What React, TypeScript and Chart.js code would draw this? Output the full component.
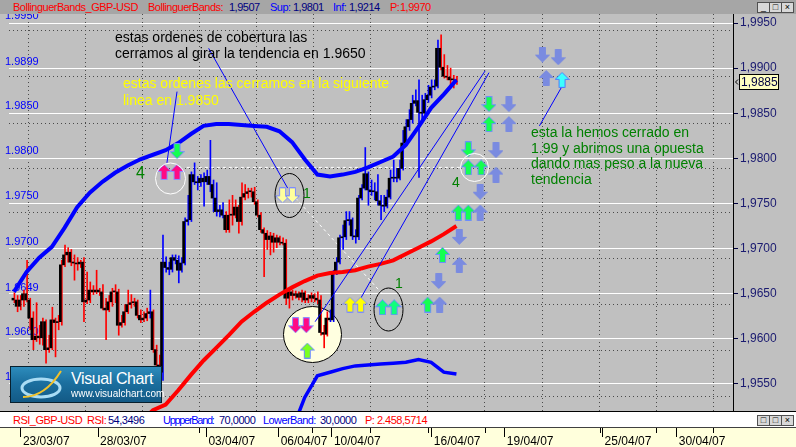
import React, { useEffect, useRef } from "react";
import { Chart, registerables } from "chart.js";

Chart.register(...registerables);

const FONT = "'Liberation Sans', Arial, Helvetica, sans-serif";

// ---------------- data ----------------
const opens = [
  1.9645,1.9643,1.9636,1.9643,1.9650,1.9643,1.9623,1.9599,1.9603,1.9601,
  1.9619,1.9588,1.9590,1.9621,1.9618,1.9619,1.9682,1.9693,1.9696,1.9685,
  1.9684,1.9683,1.9685,1.9641,1.9643,1.9654,1.9652,1.9654,1.9652,1.9634,
  1.9632,1.9641,1.9652,1.9652,1.9615,1.9618,1.9630,1.9638,1.9640,1.9641,
  1.9626,1.9621,1.9623,1.9628,1.9630,1.9588,1.9571,1.9563,1.9685,1.9679,
  1.9677,1.9690,1.9687,1.9676,1.9684,1.9730,1.9732,1.9782,1.9774,1.9773,
  1.9778,1.9774,1.9780,1.9771,1.9756,1.9741,1.9743,1.9737,1.9721,1.9737,
  1.9737,1.9746,1.9730,1.9757,1.9761,1.9763,1.9763,1.9752,1.9737,1.9721,
  1.9717,1.9710,1.9714,1.9707,1.9712,1.9707,1.9706,1.9645,1.9652,1.9648,
  1.9650,1.9646,1.9651,1.9643,1.9645,1.9648,1.9645,1.9643,1.9607,1.9605,
  1.9623,1.9621,1.9673,1.9685,1.9712,1.9713,1.9731,1.9732,1.9714,1.9713,
  1.9756,1.9767,1.9783,1.9765,1.9763,1.9763,1.9753,1.9748,1.9747,1.9757,
  1.9778,1.9778,1.9778,1.9789,1.9817,1.9835,1.9843,1.9861,1.9864,1.9851,
  1.9850,1.9865,1.9870,1.9879,1.9880,1.9922,1.9901,1.9891,1.9890,1.9887,
  1.9887,
];
const highs = [
  1.9651,1.9648,1.9648,1.9654,1.9687,1.9645,1.9630,1.9640,1.9615,1.9623,
  1.9621,1.9604,1.9635,1.9623,1.9626,1.9687,1.9704,1.9701,1.9699,1.9693,
  1.9690,1.9687,1.9690,1.9674,1.9663,1.9659,1.9676,1.9656,1.9660,1.9645,
  1.9648,1.9656,1.9660,1.9655,1.9626,1.9638,1.9654,1.9649,1.9645,1.9643,
  1.9632,1.9630,1.9634,1.9654,1.9632,1.9593,1.9582,1.9715,1.9691,1.9685,
  1.9693,1.9693,1.9692,1.9690,1.9734,1.9759,1.9785,1.9795,1.9780,1.9782,
  1.9784,1.9787,1.9820,1.9776,1.9773,1.9748,1.9751,1.9741,1.9754,1.9759,
  1.9754,1.9748,1.9773,1.9771,1.9767,1.9767,1.9768,1.9754,1.9740,1.9723,
  1.9720,1.9718,1.9717,1.9715,1.9714,1.9712,1.9710,1.9656,1.9654,1.9653,
  1.9652,1.9654,1.9653,1.9649,1.9651,1.9650,1.9652,1.9648,1.9615,1.9630,
  1.9632,1.9676,1.9690,1.9715,1.9726,1.9741,1.9741,1.9734,1.9721,1.9759,
  1.9771,1.9812,1.9785,1.9776,1.9773,1.9782,1.9759,1.9759,1.9765,1.9787,
  1.9798,1.9789,1.9798,1.9831,1.9843,1.9854,1.9870,1.9876,1.9887,1.9870,
  1.9872,1.9881,1.9887,1.9887,1.9931,1.9937,1.9915,1.9903,1.9900,1.9892,
  1.9891,
];
const lows = [
  1.9640,1.9630,1.9632,1.9636,1.9641,1.9610,1.9588,1.9597,1.9594,1.9593,
  1.9573,1.9585,1.9588,1.9580,1.9610,1.9615,1.9680,1.9685,1.9681,1.9665,
  1.9676,1.9679,1.9619,1.9639,1.9640,1.9649,1.9650,1.9648,1.9632,1.9599,
  1.9630,1.9636,1.9640,1.9604,1.9613,1.9615,1.9628,1.9634,1.9636,1.9623,
  1.9618,1.9619,1.9620,1.9623,1.9585,1.9568,1.9557,1.9554,1.9674,1.9671,
  1.9674,1.9683,1.9662,1.9674,1.9682,1.9726,1.9730,1.9771,1.9765,1.9769,
  1.9747,1.9771,1.9763,1.9741,1.9736,1.9735,1.9734,1.9718,1.9718,1.9726,
  1.9734,1.9717,1.9726,1.9754,1.9756,1.9757,1.9749,1.9735,1.9718,1.9669,
  1.9699,1.9693,1.9696,1.9701,1.9704,1.9704,1.9638,1.9634,1.9643,1.9645,
  1.9643,1.9641,1.9640,1.9640,1.9641,1.9641,1.9639,1.9604,1.9590,1.9603,
  1.9619,1.9619,1.9671,1.9683,1.9699,1.9710,1.9726,1.9710,1.9706,1.9710,
  1.9754,1.9765,1.9748,1.9759,1.9754,1.9748,1.9732,1.9741,1.9745,1.9755,
  1.9774,1.9774,1.9776,1.9787,1.9814,1.9831,1.9839,1.9858,1.9779,1.9843,
  1.9847,1.9862,1.9867,1.9876,1.9878,1.9898,1.9889,1.9887,1.9881,1.9878,
  1.9882,
];
const closes = [
  1.9643,1.9636,1.9643,1.9650,1.9643,1.9623,1.9599,1.9603,1.9601,1.9619,
  1.9588,1.9590,1.9621,1.9618,1.9619,1.9682,1.9693,1.9696,1.9685,1.9684,
  1.9683,1.9685,1.9641,1.9643,1.9654,1.9652,1.9654,1.9652,1.9634,1.9632,
  1.9641,1.9652,1.9652,1.9615,1.9618,1.9630,1.9638,1.9640,1.9641,1.9626,
  1.9621,1.9623,1.9628,1.9630,1.9588,1.9571,1.9563,1.9685,1.9679,1.9677,
  1.9690,1.9687,1.9676,1.9684,1.9730,1.9732,1.9782,1.9774,1.9773,1.9778,
  1.9774,1.9780,1.9771,1.9756,1.9741,1.9743,1.9737,1.9721,1.9737,1.9737,
  1.9746,1.9730,1.9757,1.9761,1.9763,1.9763,1.9752,1.9737,1.9721,1.9717,
  1.9710,1.9714,1.9707,1.9712,1.9707,1.9706,1.9645,1.9652,1.9648,1.9650,
  1.9646,1.9651,1.9643,1.9645,1.9648,1.9645,1.9643,1.9607,1.9605,1.9623,
  1.9621,1.9673,1.9685,1.9712,1.9713,1.9731,1.9732,1.9714,1.9713,1.9756,
  1.9767,1.9783,1.9765,1.9763,1.9763,1.9753,1.9748,1.9747,1.9757,1.9778,
  1.9778,1.9778,1.9789,1.9817,1.9835,1.9843,1.9861,1.9864,1.9851,1.9850,
  1.9865,1.9870,1.9879,1.9880,1.9922,1.9901,1.9891,1.9890,1.9887,1.9887,
  1.9885,
];
// r = red wick, b = blue wick
const wickColors =
  "rrrrrrrrrr" + "rrrrrrrrrr" + "rrrrrrrrrr" + "rrrrrrrrrr" + "rrrbrrrbbb" +
  "bbbbbbbbbb" + "bbbbbbbrrr" + "rrrrrrrrrr" + "rrrrrrrrrr" + "rrrrrrrrrr" +
  "bbbbbbbbbb" + "bbbbbbbbbb" + "bbbbbbbbbb" + "bbbbbrrrrr" + "r";

const bandIdx = [0,4,8,12,16,20,24,28,32,36,40,44,48,52,56,60,64,68,72,76,80,84,88,92,96,100,104,108,112,116,120,124,128,132,136,140];
const upperBand = [1.9652,1.9674,1.9690,1.9702,1.9723,1.9746,1.9762,1.9774,1.9784,1.9792,1.9799,1.9804,1.9809,1.9817,1.9827,1.9836,1.9838,1.9838,1.9837,1.9836,1.9835,1.9830,1.9818,1.9799,1.9782,1.9780,1.9782,1.9785,1.9790,1.9796,1.9802,1.9815,1.9835,1.9856,1.9871,1.9887];
const middleBand = [null,null,null,null,null,null,null,null,null,1.9488,1.9507,1.9521,1.9527,1.9543,1.9560,1.9576,1.9590,1.9604,1.9619,1.9630,1.9640,1.9649,1.9657,1.9664,1.9670,1.9673,1.9674,1.9676,1.9680,1.9683,1.9687,1.9694,1.9701,1.9708,1.9716,1.9725];
const lowerBand = [null,null,null,null,null,null,null,null,null,null,null,null,null,null,null,null,null,null,null,null,null,null,1.9499,1.9535,1.9559,1.9563,1.9567,1.9570,1.9571,1.9572,1.9573,1.9574,1.9577,1.9574,1.9563,1.9561];

const axisTicks = [1.955, 1.96, 1.965, 1.97, 1.975, 1.98, 1.985, 1.99, 1.995];
const lineLevels = [1.995, 1.9899, 1.985, 1.98, 1.975, 1.97, 1.9649, 1.96, 1.955];
const dottedLevels = [1.9942, 1.9891, 1.9839, 1.9789, 1.974, 1.9689, 1.9638, 1.9587, 1.9536];
const gridIdx = [4.5, 22.6, 40.7, 58.7, 76.8, 94.8, 112.9, 131.0, 149.0, 167.1, 185.2, 203.2, 221.3];
const dateTickIdx = [2.2, 26.6, 60.9, 83.75, 100.6, 132.2, 155.3, 186.25, 209.7];
const dateLabels = ["23/03/07", "28/03/07", "03/04/07", "06/04/07", "10/04/07", "16/04/07", "19/04/07", "25/04/07", "30/04/07"];
const shortTickIdx = [58.4, 94.4, 112.5, 130.9, 149.1, 185.3, 203.1, 221.25];

const markerIdx = [47.5, 51.6, 51.6, 85, 88.1, 89.1, 92.5, 92.8, 106.3, 109.7, 116.6, 120.3, 150.3, 156.6, 150.3, 156.6, 143.75, 152.5, 143.75, 147.8, 152.5, 147.5, 140.6, 143.75, 147.5, 140.9, 135.6, 140.9, 134.4, 130.9, 134.7, 167.2, 172.2, 168.4, 173.4];
const markerVal = [1.9785, 1.9785, 1.9808, 1.9759, 1.9759, 1.9615, 1.9615, 1.9587, 1.9638, 1.9638, 1.9635, 1.9635, 1.986, 1.986, 1.9838, 1.9838, 1.981, 1.9809, 1.979, 1.979, 1.9782, 1.9763, 1.974, 1.974, 1.974, 1.9713, 1.9693, 1.9682, 1.9664, 1.9638, 1.9638, 1.9915, 1.9912, 1.9889, 1.9887];
const markerKind = ["pinkUp", "pinkUp", "greenDown", "paleDown", "paleDown", "pinkDown", "pinkDown", "limeUp", "yellowUp", "yellowUp", "mintUp", "mintUp", "greenDown", "greyDown", "greenUp", "greyUp", "greenDown", "greyDown", "greenUp", "greenUp", "greyUp", "greyDown", "greenUp", "greenUp", "greyUp", "greyDown", "greenUp", "greyUp", "greyDown", "greenUp", "greyUp", "greyDown", "greyDown", "greyUp", "cyanUp"];

const ringIdx = [49.4, 145.6, 87.0, 118.3];
const ringVal = [1.9778, 1.979, 1.9759, 1.9633];
const ringKind = ["whiteA", "whiteB", "blackA", "blackB"];
const paleIdx = [94.2];
const paleVal = [1.9605];

const ptrStartIdx = [61.6, 51.6, 174.1, 95.3, 109.4];
const ptrStartVal = [1.9922, 1.9874, 1.9884, 1.9619, 1.9643];
const ptrEndIdx = [86.6, 48.4, 166.25, 149.1, 150.3];
const ptrEndVal = [1.9767, 1.9795, 1.9836, 1.9897, 1.9895];

const dashStartIdx = [54.7, 89.1];
const dashStartVal = [1.979, 1.9756];
const dashEndIdx = [142.2, 116.25];
const dashEndVal = [1.979, 1.9651];

const X_MIN = -1.5625;
const X_MAX = 227.5;
const Y_MIN = 1.952;
const Y_MAX = 1.996;

// ring styles: width, height, stroke, fill
const RING_STYLE: Record<string, [number, number, string, string | null]> = {
  whiteA: [30, 31, "#ffffff", null],
  whiteB: [28, 28, "#ffffff", null],
  blackA: [29, 44, "#000000", null],
  blackB: [29, 43, "#000000", null],
  pale: [58, 56, "#000000", "#ffffe0"],
};

// ---------------- helpers ----------------
function arrowCanvas(fill: string, stroke: string, up: boolean) {
  const c = document.createElement("canvas");
  c.width = 15;
  c.height = 16;
  const g = c.getContext("2d")!;
  const pts = [[7.5, 0.5], [14.5, 7.5], [10.5, 7.5], [10.5, 15.5], [4.5, 15.5], [4.5, 7.5], [0.5, 7.5]];
  g.beginPath();
  pts.forEach(([x, y], k) => {
    const yy = up ? y : 16 - y;
    if (k === 0) g.moveTo(x, yy);
    else g.lineTo(x, yy);
  });
  g.closePath();
  g.fillStyle = fill;
  g.fill();
  g.strokeStyle = stroke;
  g.lineWidth = 1;
  g.stroke();
  return c;
}

function drawRing(ctx: CanvasRenderingContext2D, cx: number, cy: number, kind: string) {
  const [w, h, stroke, fill] = RING_STYLE[kind];
  ctx.beginPath();
  ctx.ellipse(Math.round(cx) + 0.5, Math.round(cy) + 0.5, w / 2, h / 2, 0, 0, Math.PI * 2);
  if (fill) {
    ctx.fillStyle = fill;
    ctx.fill();
  }
  ctx.strokeStyle = stroke;
  ctx.lineWidth = 1;
  ctx.stroke();
}

const Btn = ({ x, y, glyph }: { x: number; y: number; glyph: string }) => (
  <div
    style={{
      position: "absolute", left: x, top: y, width: 11, height: 9,
      border: "1px solid #505050", background: "#d8d8d8", fontSize: 9,
      lineHeight: "9px", textAlign: "center", color: "#000", fontFamily: FONT,
    }}
  >
    {glyph}
  </div>
);

export default function App() {
  const ref = useRef<HTMLCanvasElement>(null);

  useEffect(() => {
    if (!ref.current) return;
    Chart.defaults.font.family = FONT;

    const arrows: Record<string, HTMLCanvasElement> = {
      pinkUp: arrowCanvas("#ff0a84", "#8c8cff", true),
      pinkDown: arrowCanvas("#ff0a84", "#8c8cff", false),
      greenUp: arrowCanvas("#14ff50", "#6c8cff", true),
      greenDown: arrowCanvas("#14ff50", "#6c8cff", false),
      limeUp: arrowCanvas("#7cff20", "#6c8cff", true),
      paleDown: arrowCanvas("#ffff9c", "#7c8cff", false),
      yellowUp: arrowCanvas("#ffff00", "#7c8cff", true),
      mintUp: arrowCanvas("#10ff7c", "#6c8cff", true),
      greyUp: arrowCanvas("#7a8be0", "#7a8be0", true),
      greyDown: arrowCanvas("#7a8be0", "#7a8be0", false),
      cyanUp: arrowCanvas("#3cffff", "#4c7cff", true),
    };

    const idx = closes.map((_, i) => i);
    const datasets: any[] = [];

    datasets.push({
      type: "scatter", label: "markers", order: 0,
      data: markerIdx.map((x, k) => ({ x, y: markerVal[k] })),
      pointStyle: markerKind.map((k) => arrows[k]),
      pointRadius: 8, showLine: false,
    });
    ptrStartIdx.forEach((x, k) => {
      datasets.push({
        type: "line", order: 1,
        data: [{ x, y: ptrStartVal[k] }, { x: ptrEndIdx[k], y: ptrEndVal[k] }],
        borderColor: "#0000ff", borderWidth: 1, pointRadius: 0,
      });
    });
    const bands = [
      { d: upperBand, c: "#0000ff", w: 4 },
      { d: middleBand, c: "#ff0000", w: 4 },
      { d: lowerBand, c: "#0000ff", w: 3.5 },
    ];
    bands.forEach((b) => {
      datasets.push({
        type: "line", order: 2,
        data: bandIdx.map((x, k) => ({ x, y: b.d[k] })),
        borderColor: b.c, borderWidth: b.w, pointRadius: 0, spanGaps: false,
      });
    });
    datasets.push({
      type: "bar", label: "wick", order: 4,
      data: idx.map((i) => ({ x: i, y: [lows[i], highs[i]] })),
      backgroundColor: idx.map((i) => (wickColors[i] === "b" ? "#0000ff" : "#ff0000")),
      barThickness: 1, minBarLength: 1,
    });
    datasets.push({
      type: "bar", label: "body", order: 3,
      data: idx.map((i) => ({ x: i, y: [opens[i], closes[i]] })),
      backgroundColor: "#000000",
      barThickness: 2, minBarLength: 1,
    });
    dashStartIdx.forEach((x, k) => {
      datasets.push({
        type: "line", order: 5,
        data: [{ x, y: dashStartVal[k] }, { x: dashEndIdx[k], y: dashEndVal[k] }],
        borderColor: "#ffffff", borderWidth: 1, borderDash: [3, 3], pointRadius: 0,
      });
    });

    const overlay = {
      id: "overlay",
      beforeDraw(chart: any) {
        const { ctx, chartArea } = chart;
        ctx.save();
        ctx.fillStyle = "#ffffdc";
        ctx.fillRect(0, chartArea.bottom + 17, chart.width, chart.height - chartArea.bottom - 17);
        ctx.restore();
      },
      beforeDatasetsDraw(chart: any) {
        const { ctx } = chart;
        const x = chart.scales.x;
        const y = chart.scales.y;
        ctx.save();
        ctx.font = `11px ${FONT}`;
        ctx.fillStyle = "#0000ff";
        ctx.textAlign = "left";
        ctx.textBaseline = "alphabetic";
        lineLevels.forEach((v) => ctx.fillText(v.toFixed(4), 5, y.getPixelForValue(v) - 4));
        paleIdx.forEach((v, k) => drawRing(ctx, x.getPixelForValue(v), y.getPixelForValue(paleVal[k]), "pale"));
        ctx.restore();
      },
      afterDatasetsDraw(chart: any) {
        const { ctx } = chart;
        const x = chart.scales.x;
        const y = chart.scales.y;
        ctx.save();
        ringIdx.forEach((v, k) => drawRing(ctx, x.getPixelForValue(v), y.getPixelForValue(ringVal[k]), ringKind[k]));
        ctx.restore();
      },
      afterDraw(chart: any) {
        const { ctx, chartArea } = chart;
        const x = chart.scales.x;
        const y = chart.scales.y;
        ctx.save();
        ctx.strokeStyle = "#000";
        ctx.lineWidth = 1;
        const top = chartArea.bottom + 17;
        shortTickIdx.forEach((v) => {
          const px = Math.round(x.getPixelForValue(v)) + 0.5;
          ctx.beginPath();
          ctx.moveTo(px, top);
          ctx.lineTo(px, top + 5);
          ctx.stroke();
        });
        // last price box
        const last = closes[closes.length - 1];
        const py = Math.round(y.getPixelForValue(last));
        const bx = chartArea.right + 6;
        ctx.fillStyle = "#ffffc0";
        ctx.fillRect(bx, py - 8, 40, 16);
        ctx.strokeRect(bx + 0.5, py - 7.5, 39, 15);
        ctx.fillStyle = "#000040";
        ctx.font = `12px ${FONT}`;
        ctx.textBaseline = "middle";
        ctx.textAlign = "left";
        ctx.fillText(last.toFixed(4).replace(".", ","), bx + 2, py + 0.5);
        ctx.beginPath();
        ctx.moveTo(chartArea.right + 5, py - 2.5);
        ctx.lineTo(chartArea.right + 2.5, py);
        ctx.lineTo(chartArea.right + 5, py + 2.5);
        ctx.stroke();
        ctx.restore();
      },
    };

    const chart = new Chart(ref.current, {
      type: "bar",
      data: { datasets },
      options: {
        responsive: false,
        animation: false,
        devicePixelRatio: 1,
        events: [],
        layout: { padding: { top: 14, left: 0, right: 0, bottom: 0 } },
        plugins: { legend: { display: false }, tooltip: { enabled: false } },
        scales: {
          x: {
            type: "linear", min: X_MIN, max: X_MAX, offset: false, position: "bottom",
            afterBuildTicks: (s: any) => { s.ticks = dateTickIdx.map((v) => ({ value: v })); },
            ticks: {
              autoSkip: false, maxRotation: 0, minRotation: 0, align: "start",
              padding: -3, labelOffset: 2, color: "#000000",
              font: { size: 12, family: FONT },
              callback: (_v: any, i: number) => dateLabels[i],
            },
            grid: { offset: false, drawOnChartArea: false, drawTicks: true, tickLength: 26, tickColor: "#000000", tickWidth: 1 },
            border: { display: true, color: "#000000", width: 1 },
            afterFit: (s: any) => { s.height = 36; },
          },
          xg: {
            type: "linear", min: X_MIN, max: X_MAX, offset: false, position: "bottom",
            afterBuildTicks: (s: any) => { s.ticks = gridIdx.map((v) => ({ value: v })); },
            ticks: { display: false },
            grid: { offset: false, drawTicks: false, color: "#4a4a4a", lineWidth: 1 },
            border: { display: false, dash: [1, 3] },
            afterFit: (s: any) => { s.height = 0; },
          },
          y: {
            type: "linear", position: "right", min: Y_MIN, max: Y_MAX,
            afterBuildTicks: (s: any) => { s.ticks = axisTicks.map((v) => ({ value: v })); },
            ticks: {
              color: "#1a1a70", padding: 2, font: { size: 12, family: FONT },
              callback: (v: any) => Number(v).toFixed(4).replace(".", ","),
            },
            grid: { color: "#ffffff", lineWidth: 1, drawTicks: true, tickLength: 5, tickColor: "#000040" },
            border: { display: true, color: "#000000", width: 1 },
            afterFit: (s: any) => { s.width = 63; },
          },
          yg: {
            type: "linear", position: "left", min: Y_MIN, max: Y_MAX,
            afterBuildTicks: (s: any) => { s.ticks = dottedLevels.map((v) => ({ value: v })); },
            ticks: { display: false },
            grid: { drawTicks: false, color: "#4a4a4a", lineWidth: 1 },
            border: { display: false, dash: [1, 3] },
            afterFit: (s: any) => { s.width = 0; },
          },
        },
      } as any,
      plugins: [overlay],
    });
    return () => chart.destroy();
  }, []);

  const headerSpans = [
    { t: "BollinguerBands_GBP-USD", x: 13, c: "#ff0000" },
    { t: "BollinguerBands:", x: 148, c: "#ff0000" },
    { t: "1,9507", x: 229, c: "#000080" },
    { t: "Sup:", x: 270, c: "#0000ff" },
    { t: "1,9801", x: 293, c: "#000080" },
    { t: "Inf:", x: 333, c: "#0000ff" },
    { t: "1,9214", x: 349, c: "#000080" },
    { t: "P:", x: 390, c: "#ff0000" },
    { t: "1,9970", x: 400, c: "#ff0000" },
  ];
  const rsiSpans = [
    { t: "RSI_GBP-USD", x: 13, c: "#ff0000", ls: -0.5 },
    { t: "RSI:", x: 87, c: "#ff0000", ls: -0.5 },
    { t: "54,3496", x: 108, c: "#000080", ls: -0.5 },
    { t: "UppperBand:", x: 163, c: "#0000ff", ls: -1.3 },
    { t: "70,0000", x: 219, c: "#000080", ls: -0.5 },
    { t: "LowerBand:", x: 263, c: "#0000ff", ls: -0.6 },
    { t: "30,0000", x: 320, c: "#000080", ls: -0.5 },
    { t: "P: 2.458,5714", x: 365, c: "#ff0000", ls: -0.5 },
  ];
  const txt = (extra: React.CSSProperties): React.CSSProperties => ({
    position: "absolute", fontFamily: FONT, whiteSpace: "pre", ...extra,
  });

  return (
    <div
      style={{
        position: "fixed", left: 0, top: 0, width: 796, height: 447,
        overflow: "hidden", background: "#c0c0c0", fontFamily: FONT,
      }}
    >
      <canvas ref={ref} width={796} height={447} style={{ position: "absolute", left: 0, top: 0 }} />

      {/* header */}
      <div style={{ position: "absolute", left: 0, top: 0, width: 796, height: 14, background: "#a6a6a6" }}>
        {headerSpans.map((s, k) => (
          <span key={k} style={txt({ left: s.x, top: 1, fontSize: 11, lineHeight: "13px", letterSpacing: -0.5, color: s.c })}>{s.t}</span>
        ))}
        <Btn x={757} y={2} glyph="_" />
        <Btn x={769} y={2} glyph="□" />
        <Btn x={781} y={2} glyph="×" />
      </div>

      {/* annotations */}
      <div style={txt({ left: 115, top: 29, fontSize: 14, lineHeight: "16px", color: "#000000" })}>
        {"estas ordenes de cobertura las\ncerramos al girar la tendencia en 1.9650"}
      </div>
      <div style={txt({ left: 123, top: 75, fontSize: 14, lineHeight: "17px", color: "#ffff00" })}>
        {"estas ordenes las cerramos en la siguiente\nlinea en 1.9850"}
      </div>
      <div style={txt({ left: 531, top: 125, fontSize: 14, lineHeight: "15.5px", color: "#008000" })}>
        {"esta la hemos cerrado en\n1.99 y abrimos una opuesta\ndando mas peso a la nueva\ntendencia"}
      </div>
      <div style={txt({ left: 136, top: 164, fontSize: 16, lineHeight: "18px", color: "#008000" })}>4</div>
      <div style={txt({ left: 303, top: 185, fontSize: 14, lineHeight: "16px", color: "#008000" })}>1</div>
      <div style={txt({ left: 395, top: 275, fontSize: 14, lineHeight: "16px", color: "#008000" })}>1</div>
      <div style={txt({ left: 452, top: 174, fontSize: 14, lineHeight: "16px", color: "#008000" })}>4</div>

      {/* logo */}
      <div
        style={{
          position: "absolute", left: 10, top: 366, width: 150, height: 35,
          border: "1px solid #08202e",
          background: "linear-gradient(180deg, #2d8cbc 0%, #1b6f9f 45%, #135a86 100%)",
        }}
      >
        <svg width={60} height={35} style={{ position: "absolute", left: 4, top: 0 }}>
          <ellipse cx={26} cy={21} rx={19} ry={9} fill="none" stroke="#a9dcf4" strokeWidth={3} />
          <path d="M 8 30 Q 30 30 46 4" fill="none" stroke="#f2c22a" strokeWidth={2} />
        </svg>
        <div style={txt({ left: 60, top: 3, fontSize: 16, lineHeight: "18px", color: "#ffffff", letterSpacing: -0.4 })}>
          Visual Chart
        </div>
        <div style={txt({ left: 60, top: 21, fontSize: 10, lineHeight: "12px", color: "#ffffff" })}>
          www.visualchart.com
        </div>
      </div>

      {/* RSI band */}
      <div
        style={{
          position: "absolute", left: 0, top: 411, width: 796, height: 15,
          background: "#ffffff", borderTop: "1px solid #000000", borderBottom: "1px solid #404040",
        }}
      >
        {rsiSpans.map((s, k) => (
          <span key={k} style={txt({ left: s.x, top: 2, fontSize: 11, lineHeight: "13px", letterSpacing: s.ls, color: s.c })}>{s.t}</span>
        ))}
        <Btn x={757} y={3} glyph="□" />
        <Btn x={769} y={3} glyph="□" />
        <Btn x={781} y={3} glyph="×" />
      </div>
    </div>
  );
}
